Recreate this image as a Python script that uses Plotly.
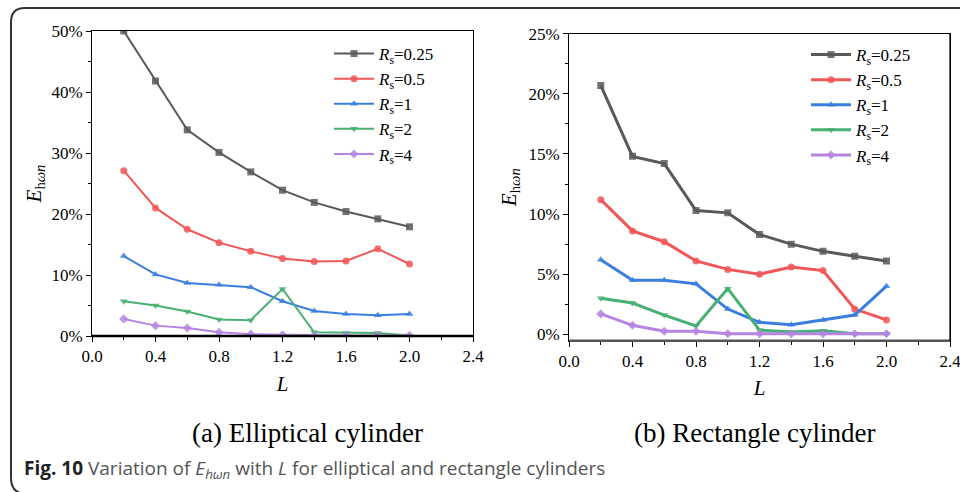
import plotly.graph_objects as go

L = [0.2, 0.4, 0.6, 0.8, 1.0, 1.2, 1.4, 1.6, 1.8, 2.0]
series_names = ["0.25", "0.5", "1", "2", "4"]

# (a) Elliptical cylinder, E in %
ell_025 = [50.0, 41.8, 33.8, 30.1, 26.9, 23.9, 21.9, 20.4, 19.2, 17.9]
ell_05 = [27.1, 21.0, 17.5, 15.3, 13.9, 12.7, 12.2, 12.3, 14.3, 11.8]
ell_1 = [13.1, 10.1, 8.7, 8.4, 8.0, 5.7, 4.1, 3.6, 3.4, 3.6]
ell_2 = [5.7, 5.0, 4.0, 2.7, 2.6, 7.7, 0.6, 0.5, 0.5, 0.1]
ell_4 = [2.8, 1.7, 1.3, 0.6, 0.3, 0.2, 0.1, 0.1, 0.1, 0.1]

# (b) Rectangle cylinder, E in %
rec_025 = [20.7, 14.8, 14.2, 10.3, 10.1, 8.3, 7.5, 6.9, 6.5, 6.1]
rec_05 = [11.2, 8.6, 7.7, 6.1, 5.4, 5.0, 5.6, 5.3, 2.1, 1.2]
rec_1 = [6.2, 4.5, 4.5, 4.2, 2.1, 1.0, 0.8, 1.2, 1.6, 4.0]
rec_2 = [3.0, 2.6, 1.6, 0.7, 3.8, 0.35, 0.2, 0.3, 0.05, 0.05]
rec_4 = [1.7, 0.75, 0.25, 0.25, 0.05, 0.05, 0.05, 0.05, 0.05, 0.05]

x_ticks = [0.0, 0.4, 0.8, 1.2, 1.6, 2.0, 2.4]
x_ticklabels = ["0.0", "0.4", "0.8", "1.2", "1.6", "2.0", "2.4"]
ya_ticks = [0, 10, 20, 30, 40, 50]
ya_ticklabels = ["0%", "10%", "20%", "30%", "40%", "50%"]
yb_ticks = [0, 5, 10, 15, 20, 25]
yb_ticklabels = ["0%", "5%", "10%", "15%", "20%", "25%"]

colors = ["#595959", "#f25757", "#3a7fe0", "#47b072", "#b684e2"]
symbols = ["square", "circle", "triangle-up", "triangle-down", "diamond"]

SERIF = "Liberation Serif"

fig = go.Figure()

ell = [ell_025, ell_05, ell_1, ell_2, ell_4]
rec = [rec_025, rec_05, rec_1, rec_2, rec_4]

for i, (name, ys) in enumerate(zip(series_names, ell)):
    fig.add_trace(go.Scatter(
        x=L, y=ys, mode="lines+markers",
        name="<i>R</i><sub>s</sub>=" + name,
        line=dict(color=colors[i], width=2),
        marker=dict(symbol=symbols[i], size=7, color=colors[i], opacity=0.85),
        xaxis="x", yaxis="y", legend="legend"))

for i, (name, ys) in enumerate(zip(series_names, rec)):
    fig.add_trace(go.Scatter(
        x=L, y=ys, mode="lines+markers",
        name="<i>R</i><sub>s</sub>=" + name,
        line=dict(color=colors[i], width=3),
        marker=dict(symbol=symbols[i], size=7, color=colors[i], opacity=0.85),
        xaxis="x2", yaxis="y2", legend="legend2"))

axis_common = dict(
    showgrid=False, zeroline=False, showline=True, linecolor="black",
    linewidth=1, mirror=True, ticks="outside", ticklen=5, tickwidth=1,
    tickcolor="black", tickfont=dict(family=SERIF, size=17, color="black"),
    automargin=False, ticklabeloverflow="allow",
)
title_font = dict(family=SERIF, size=21, color="black")

fig.update_layout(
    width=960, height=492,
    margin=dict(l=0, r=0, t=0, b=0, pad=0, autoexpand=False),
    font=dict(family=SERIF, color="black"),
    paper_bgcolor="white", plot_bgcolor="white",
    xaxis=dict(domain=[92/960, 473/960], range=[0, 2.4], anchor="y",
               tickvals=x_ticks, ticktext=x_ticklabels,
               minor=dict(dtick=0.2, ticks="outside", ticklen=3, tickcolor="black"),
               title=dict(text="<i>L</i>", font=title_font, standoff=10),
               **axis_common),
    yaxis=dict(domain=[1-336/492, 1-31/492], range=[0, 50], anchor="x",
               tickvals=ya_ticks, ticktext=ya_ticklabels,
               minor=dict(dtick=5, ticks="outside", ticklen=3, tickcolor="black"),
               title=dict(text="<i>E</i><sub>h<i>ωn</i></sub>", font=title_font, standoff=4),
               **axis_common),
    xaxis2=dict(domain=[569/960, 950/960], range=[0, 2.4], anchor="y2",
                tickvals=x_ticks, ticktext=x_ticklabels,
                minor=dict(dtick=0.2, ticks="outside", ticklen=3, tickcolor="black"),
                title=dict(text="<i>L</i>", font=title_font, standoff=10),
                **axis_common),
    yaxis2=dict(domain=[1-340.7/492, 1-33.7/492], range=[-0.53, 25], anchor="x2",
                tickvals=yb_ticks, ticktext=yb_ticklabels,
                minor=dict(dtick=2.5, ticks="outside", ticklen=3, tickcolor="black"),
                title=dict(text="<i>E</i><sub>h<i>ωn</i></sub>", font=title_font, standoff=6),
                **axis_common),
    legend=dict(x=329/960, y=1-36/492, xanchor="left", yanchor="top",
                bgcolor="rgba(0,0,0,0)", font=dict(family=SERIF, size=17, color="black"),
                itemwidth=40, tracegroupgap=0),
    legend2=dict(x=806/960, y=1-37/492, xanchor="left", yanchor="top",
                 bgcolor="rgba(0,0,0,0)", font=dict(family=SERIF, size=17, color="black"),
                 itemwidth=40, tracegroupgap=0),
    showlegend=True,
)

# thick bottom axis lines and right-panel right edge
fig.add_shape(type="line", xref="x domain", yref="y domain", x0=0, x1=1, y0=0, y1=0,
              line=dict(color="black", width=2.5))
fig.add_shape(type="line", xref="x2 domain", yref="y2 domain", x0=0, x1=1, y0=0, y1=0,
              line=dict(color="#555555", width=2.5))
fig.add_shape(type="line", xref="x2 domain", yref="y2 domain", x0=1, x1=1, y0=0, y1=1,
              line=dict(color="black", width=1.2))

# outer rounded frame (in left-axis domain units so it aligns with the axes)
def fx(p):
    return (p - 92) / 381
def fy(p):
    return (336 - p) / 305
path = (f"M {fx(11)},{fy(478)} L {fx(11)},{fy(22)} Q {fx(11)},{fy(8)} {fx(25)},{fy(8)} "
        f"L {fx(965)},{fy(8)}")
fig.add_shape(type="path", xref="x domain", yref="y domain", path=path,
              line=dict(color="#333333", width=2))
path2 = f"M {fx(11)},{fy(478)} Q {fx(11)},{fy(490)} {fx(20)},{fy(493)}"
fig.add_shape(type="path", xref="x domain", yref="y domain", path=path2,
              line=dict(color="#333333", width=2))

# panel captions
fig.add_annotation(text="(a) Elliptical cylinder", xref="paper", yref="paper",
                   x=307/960, y=1-433/492, showarrow=False, xanchor="center", yanchor="middle",
                   font=dict(family=SERIF, size=27, color="black"))
fig.add_annotation(text="(b) Rectangle cylinder", xref="paper", yref="paper",
                   x=754/960, y=1-433/492, showarrow=False, xanchor="center", yanchor="middle",
                   font=dict(family=SERIF, size=27, color="black"))

# figure caption
fig.add_annotation(
    text="<b><span style='color:#222222'>Fig. 10</span></b> Variation of <i>E</i><sub><i>hωn</i></sub> with <i>L</i> for elliptical and rectangle cylinders",
    xref="paper", yref="paper", x=22/960, y=1-469/492, showarrow=False,
    xanchor="left", yanchor="middle",
    font=dict(family="Open Sans", size=19, color="#555555"))

fig.write_html("out.html")
